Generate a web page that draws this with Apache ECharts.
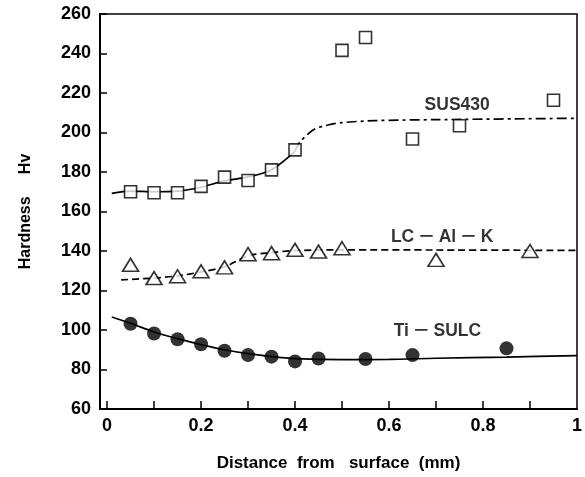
<!DOCTYPE html>
<html><head><meta charset="utf-8">
<script src="https://cdn.jsdelivr.net/npm/echarts@6/dist/echarts.min.js"></script>
<style>html,body{margin:0;padding:0;background:#fff}#c{width:585px;height:477px}</style>
</head><body><div id="c"></div>
<script>
// ---- data ----
const xTickValues = [0, 0.1, 0.2, 0.3, 0.4, 0.5, 0.6, 0.7, 0.8, 0.9];
const xLabelValues = [0, 0.2, 0.4, 0.6, 0.8, 1];

const sus430X = [0.05, 0.1, 0.15, 0.2, 0.25, 0.3, 0.35, 0.4, 0.5, 0.55, 0.65, 0.75, 0.95];
const sus430Y = [170, 169.5, 169.5, 172.7, 177.4, 175.7, 181.1, 191.2, 241.6, 248.1, 196.7, 203.4, 216.3];

const lcAlKX = [0.05, 0.1, 0.15, 0.2, 0.25, 0.3, 0.35, 0.4, 0.45, 0.5, 0.7, 0.9];
const lcAlKY = [133, 126.3, 127.2, 129.7, 131.7, 138.4, 138.9, 140.6, 139.7, 141.4, 135.5, 140];

const tiSulcX = [0.05, 0.1, 0.15, 0.2, 0.25, 0.3, 0.35, 0.4, 0.45, 0.55, 0.65, 0.85];
const tiSulcY = [103.2, 98.2, 95.3, 92.8, 89.5, 87.3, 86.5, 84.1, 85.6, 85.3, 87.3, 90.7];

// fitted curves drawn in the figure
const sus430FitSolidX = [0.01, 0.05, 0.1, 0.15, 0.2, 0.25, 0.3, 0.35, 0.4];
const sus430FitSolidY = [169.2, 170.3, 170, 170.3, 172.3, 175.5, 177.5, 181.2, 190.5];
const sus430FitDashX = [0.4, 0.41, 0.44, 0.47, 0.5, 0.57, 0.7, 1.0];
const sus430FitDashY = [190.5, 195, 201.5, 203.8, 205, 206, 206.5, 207.2];

const lcAlKFitX = [0.03, 0.1, 0.15, 0.2, 0.25, 0.3, 0.35, 0.4, 0.5, 0.7, 1.0];
const lcAlKFitY = [125.4, 126.3, 127.4, 129.4, 132, 137.5, 139.2, 140.2, 140.6, 140.5, 140.3];

const tiSulcFitX = [0.01, 0.05, 0.1, 0.15, 0.2, 0.25, 0.3, 0.35, 0.4, 0.5, 0.6, 0.7, 0.85, 1.0];
const tiSulcFitY = [106.6, 103.4, 99, 95.6, 92.6, 90, 88, 86.5, 85.5, 85, 85.1, 85.7, 86.3, 87];

const labelNames = ['SUS430', 'LC\u2009－\u2009Al\u2009－\u2009K', 'Ti\u2009－\u2009SULC'];
const labelX = [0.745, 0.713, 0.703];
const labelY = [213.8, 147.2, 99.2];

const xName = 'Distance  from   surface  (mm)';
const yName = 'Hardness     Hv';

// ---- chart ----
const zip = (xs, ys) => xs.map((x, i) => [x, ys[i]]);
const FONT = "'Liberation Sans', Arial, 'Noto Sans CJK JP', sans-serif";
const chart = echarts.init(document.getElementById('c'), null, {renderer: 'canvas'});

const fitLine = (data, type) => ({
  type: 'line', data, showSymbol: false, smooth: 0.3, z: 2,
  lineStyle: {color: '#000', width: 1.7, type}, silent: true
});

chart.setOption({
  animation: false,
  backgroundColor: '#fff',
  grid: {left: 100, right: 8, top: 14, bottom: 65, show: true, borderColor: '#000', borderWidth: 1.5, backgroundColor: 'transparent'},
  xAxis: {
    type: 'value', min: -0.015, max: 1,
    name: xName, nameLocation: 'middle', nameGap: 46,
    nameTextStyle: {fontFamily: FONT, fontWeight: 'bold', fontSize: 17, color: '#000'},
    axisLine: {show: true, onZero: false, lineStyle: {color: '#000', width: 2}},
    axisTick: {show: true, inside: true, length: 8, customValues: xTickValues, lineStyle: {color: '#000', width: 1.5}},
    axisLabel: {customValues: xLabelValues, margin: 8, fontFamily: FONT, fontWeight: 'bold', fontSize: 18, color: '#000',
      formatter: v => String(v)},
    splitLine: {show: false}
  },
  yAxis: {
    type: 'value', min: 60, max: 260, interval: 20,
    name: yName, nameLocation: 'middle', nameGap: 66, nameRotate: 90,
    nameTextStyle: {fontFamily: FONT, fontWeight: 'bold', fontSize: 16, color: '#000'},
    axisLine: {show: true, onZero: false, lineStyle: {color: '#000', width: 2}},
    axisTick: {show: true, inside: true, length: 7, lineStyle: {color: '#000', width: 1.5}},
    axisLabel: {margin: 9, fontFamily: FONT, fontWeight: 'bold', fontSize: 18, color: '#000'},
    splitLine: {show: false}
  },
  series: [
    fitLine(zip(sus430FitSolidX, sus430FitSolidY), 'solid'),
    fitLine(zip(sus430FitDashX, sus430FitDashY), [10, 4, 3, 4]),
    fitLine(zip(lcAlKFitX, lcAlKFitY), [7, 4]),
    fitLine(zip(tiSulcFitX, tiSulcFitY), 'solid'),
    {type: 'scatter', data: zip(sus430X, sus430Y), symbol: 'rect', symbolSize: 12, z: 5,
      itemStyle: {color: '#fff', borderColor: '#000', borderWidth: 1.6}},
    {type: 'scatter', data: zip(lcAlKX, lcAlKY), symbol: 'triangle', symbolSize: [16, 13], z: 5,
      itemStyle: {color: '#fff', borderColor: '#000', borderWidth: 1.6}},
    {type: 'scatter', data: zip(tiSulcX, tiSulcY), symbol: 'circle', symbolSize: 14, z: 5,
      itemStyle: {color: '#000', borderColor: '#000', borderWidth: 0}},
    {type: 'scatter', z: 6, symbolSize: 1, itemStyle: {color: 'rgba(0,0,0,0)'}, silent: true,
      data: labelNames.map((n, i) => ({name: n, value: [labelX[i], labelY[i]]})),
      label: {show: true, position: 'inside', formatter: '{b}', fontFamily: FONT, fontWeight: 'bold', fontSize: 17.5, color: '#000'}}
  ]
});
</script></body></html>
